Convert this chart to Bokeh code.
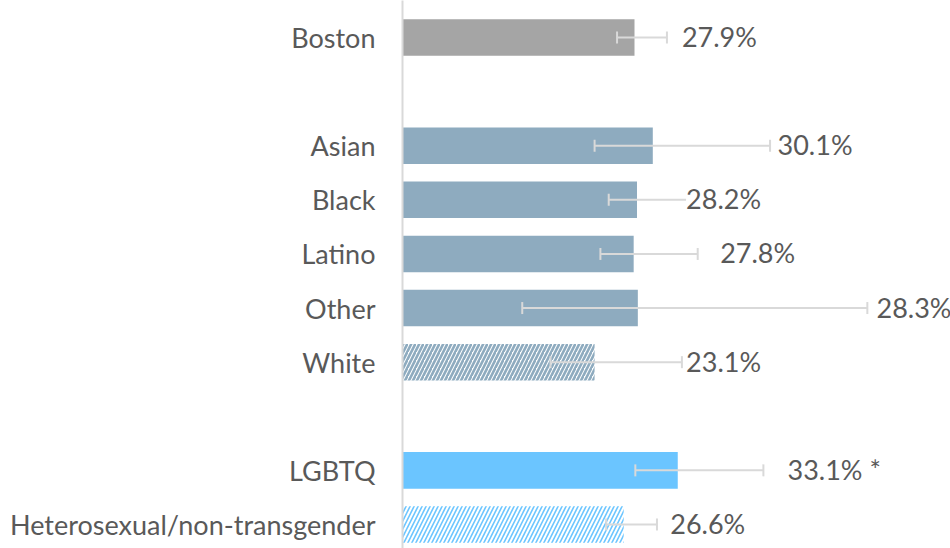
from bokeh.plotting import figure
from bokeh.models import ColumnDataSource, Range1d, FixedTicker, Whisker, TeeHead
from bokeh.core.properties import value
from bokeh.embed import file_html
from bokeh.resources import INLINE

categories = ["Boston", "Asian", "Black", "Latino", "Other", "White", "LGBTQ", "Heterosexual/non-transgender"]
slots = [0, 2, 3, 4, 5, 6, 8, 9]
values = [27.9, 30.1, 28.2, 27.8, 28.3, 23.1, 33.1, 26.6]
err_low = [25.8, 23.1, 24.8, 23.8, 14.4, 17.8, 28.0, 24.5]
err_high = [31.8, 44.2, 35.0, 35.5, 55.9, 33.6, 43.4, 30.6]
value_labels = ["27.9%", "30.1%", "28.2%", "27.8%", "28.3%", "23.1%", "33.1% *", "26.6%"]
label_x = [33.6, 45.1, 34.1, 38.2, 57.0, 34.1, 46.3, 32.2]

fills = ["#a5a5a5", "#8eabbf", "#8eabbf", "#8eabbf", "#8eabbf", "#ffffff", "#6bc5ff", "#ffffff"]
hatches = [" ", " ", " ", " ", " ", "/", " ", "/"]
hatch_colors = ["#a5a5a5", "#8eabbf", "#8eabbf", "#8eabbf", "#8eabbf", "#8eabbf", "#6bc5ff", "#6bc5ff"]
hatch_weights = [1, 1, 1, 1, 1, 2.6, 1, 1.6]

src = ColumnDataSource(dict(y=slots, v=values, lo=err_low, hi=err_high,
                            lab=value_labels, lx=label_x, fill=fills,
                            hatch=hatches, hcol=hatch_colors, hw=hatch_weights))

FONT = "Lato"
FS = "27px"
p = figure(width=950, height=548, output_backend="svg", toolbar_location=None,
           x_range=Range1d(0, 65.9), y_range=Range1d(9.444, -0.684),
           min_border_left=402, min_border_right=0, min_border_top=0, min_border_bottom=0)
p.outline_line_color = None
p.xgrid.visible = False
p.ygrid.visible = False
p.xaxis.visible = False

p.hbar(y="y", left=0, right="v", height=0.675, source=src, fill_color="fill",
       line_color=None, hatch_pattern="hatch", hatch_color="hcol",
       hatch_scale=8, hatch_weight="hw")

w = Whisker(base="y", lower="lo", upper="hi", dimension="width", source=src,
            line_color="#d9d9d9", line_width=2, level="annotation",
            lower_head=TeeHead(size=12, line_color="#d9d9d9", line_width=2),
            upper_head=TeeHead(size=12, line_color="#d9d9d9", line_width=2))
p.add_layout(w)

t = p.text(x="lx", y="y", text="lab", source=src, text_font=value(FONT),
           text_font_size=FS, text_color="#595959", text_align="left",
           text_baseline="middle", y_offset=-1, background_fill_color="#ffffff")
t.level = "overlay"

ax = p.yaxis[0]
ax.ticker = FixedTicker(ticks=slots)
ax.major_label_overrides = {s: c for s, c in zip(slots, categories)}
ax.axis_line_color = "#d9d9d9"
ax.axis_line_width = 2
ax.major_tick_line_color = None
ax.minor_tick_line_color = None
ax.major_tick_out = 0
ax.major_tick_in = 0
ax.major_label_standoff = 27
ax.major_label_text_font = FONT
ax.major_label_text_font_size = FS
ax.major_label_text_color = "#595959"

open("out.html", "w").write(file_html(p, INLINE))
